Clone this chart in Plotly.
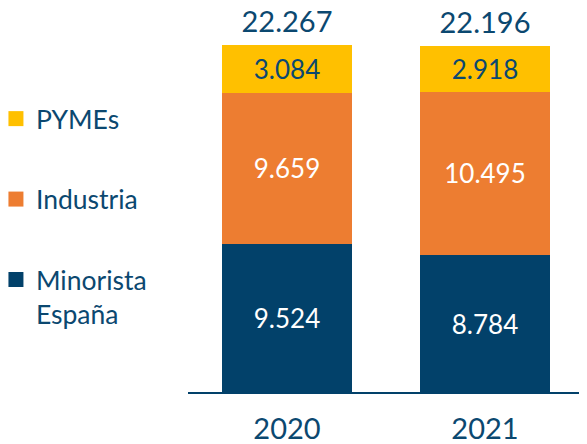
import plotly.graph_objects as go

years = ["2020", "2021"]
minorista = [9524, 8784]
industria = [9659, 10495]
pymes = [3084, 2918]
totals = [22267, 22196]

NAVY = "#02416A"
ORANGE = "#ED7D31"
YELLOW = "#FFC000"
TXT = "#0B4870"
FONT = "Lato"

fig = go.Figure()
series = [
    ("Minorista<br>España", minorista, NAVY, "white", 3),
    ("Industria", industria, ORANGE, "white", 2),
    ("PYMEs", pymes, YELLOW, TXT, 1),
]
for name, vals, col, tcol, rank in series:
    fig.add_trace(go.Bar(
        x=years, y=vals, name=name, marker=dict(color=col, line=dict(width=0)),
        texttemplate="%{y:,.0f}", textposition="inside", insidetextanchor="middle",
        textfont=dict(color=tcol, size=26, family=FONT), showlegend=False,
        hoverinfo="skip",
    ))
    fig.add_trace(go.Scatter(
        x=[None], y=[None], mode="markers", name=name,
        marker=dict(symbol="square", size=15, color=col),
        legendgroup=name, legendrank=rank, showlegend=True,
    ))

fig.add_trace(go.Scatter(
    x=years, y=totals, mode="markers+text", texttemplate="%{y:,.0f}",
    marker=dict(size=8, opacity=0),
    textposition="top center", textfont=dict(color=TXT, size=29, family=FONT),
    showlegend=False, hoverinfo="skip", cliponaxis=False,
))

# page body has an 8px default margin, so the figure is drawn 8px smaller
fig.update_layout(
    width=579, height=436, barmode="stack", bargap=0.34,
    separators=",.",
    margin=dict(l=180, r=3, t=0, b=52, autoexpand=False),
    plot_bgcolor="white", paper_bgcolor="white",
    font=dict(family=FONT, color=TXT),
    legend=dict(x=-0.485, xanchor="left", y=0.7737, yanchor="top",
                traceorder="grouped", tracegroupgap=43,
                font=dict(size=26.5, color=TXT, family=FONT), valign="top",
                bgcolor="rgba(0,0,0,0)"),
    xaxis=dict(type="category", range=[-0.5, 1.5], showline=True, linecolor=NAVY,
               linewidth=2, ticks="outside", ticklen=10, tickcolor="rgba(0,0,0,0)",
               tickfont=dict(size=29, color=TXT, family=FONT), showgrid=False,
               automargin=False),
    yaxis=dict(range=[0, 24641], visible=False, showgrid=False, automargin=False),
)

fig.write_html("out.html")
